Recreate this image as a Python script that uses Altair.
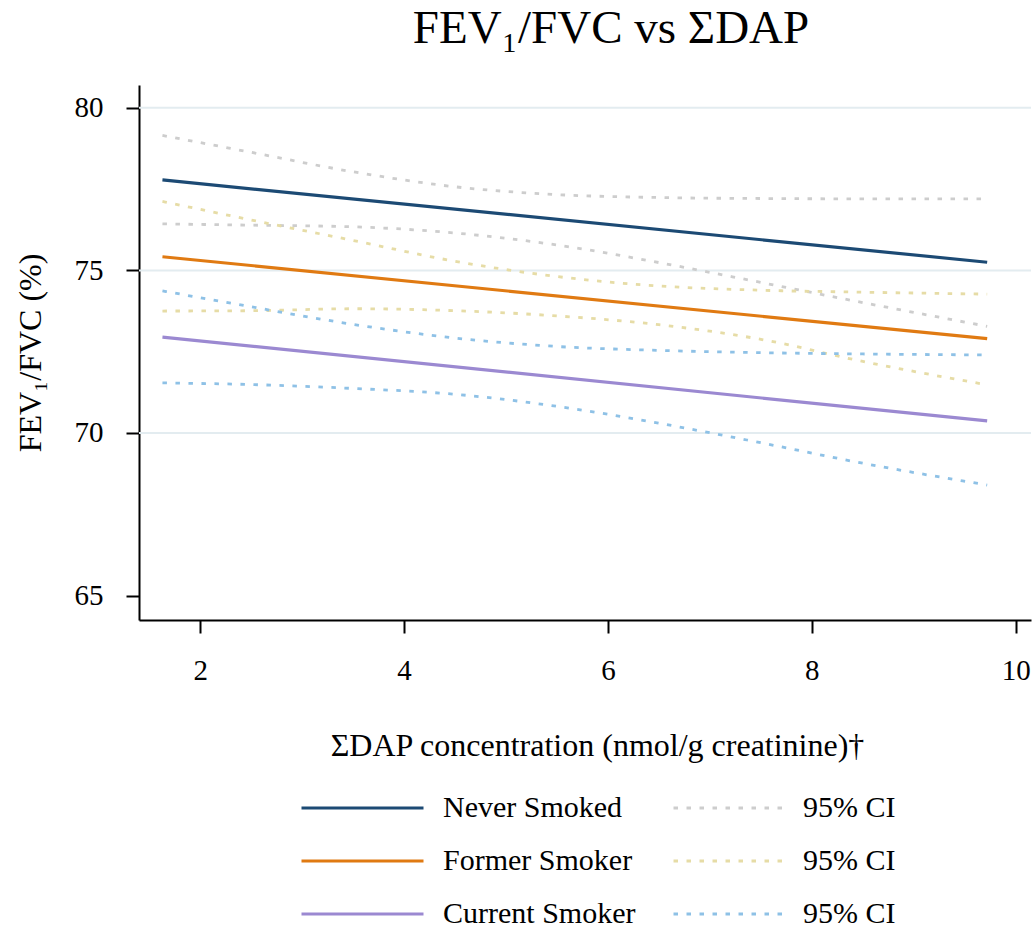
import altair as alt
import pandas as pd

# ---- data ----
groups = ["Never Smoked", "Former Smoker", "Current Smoker"]
ci_groups = ["CI Never", "CI Former", "CI Current"]
line_colors = ["#1c4a74", "#e07a12", "#9b89d1"]
ci_colors = ["#cdcdcd", "#e6dca6", "#8ec1e6"]

x_fit = [1.63, 9.72]
never_fit = [77.78, 75.25]
former_fit = [75.42, 72.90]
current_fit = [72.95, 70.37]

x_ci = [1.63, 2.5, 3.5, 4.5, 5.5, 6.5, 7.5, 8.5, 9.72]
never_upper = [79.15, 78.63, 78.03, 77.57, 77.33, 77.24, 77.21, 77.20, 77.20]
never_lower = [76.43, 76.39, 76.34, 76.15, 75.78, 75.24, 74.63, 74.01, 73.28]
former_upper = [77.12, 76.55, 75.92, 75.28, 74.81, 74.52, 74.39, 74.33, 74.27]
former_lower = [73.75, 73.76, 73.82, 73.76, 73.60, 73.33, 72.88, 72.20, 71.48]
current_upper = [74.37, 73.88, 73.34, 72.92, 72.66, 72.54, 72.47, 72.43, 72.40]
current_lower = [71.54, 71.49, 71.37, 71.19, 70.82, 70.30, 69.70, 69.07, 68.40]

x_ticks = [2, 4, 6, 8, 10]
y_ticks = [65, 70, 75, 80]
grid_values = [70, 75, 80]

FONT = "Liberation Serif"

# ---- tables ----
fit_rows = []
for g, vals in zip(groups, [never_fit, former_fit, current_fit]):
    for x, y in zip(x_fit, vals):
        fit_rows.append({"x": x, "y": y, "group": g})
fit_df = pd.DataFrame(fit_rows)

ci_rows = []
for cg, (up, lo) in zip(ci_groups, [(never_upper, never_lower),
                                      (former_upper, former_lower),
                                      (current_upper, current_lower)]):
    for x, y in zip(x_ci, up):
        ci_rows.append({"x": x, "y": y, "ci_group": cg, "id": cg + " upper"})
    for x, y in zip(x_ci, lo):
        ci_rows.append({"x": x, "y": y, "ci_group": cg, "id": cg + " lower"})
ci_df = pd.DataFrame(ci_rows)

grid_df = pd.DataFrame({"y": grid_values})

xscale = alt.Scale(domain=[1.4, 10.15], nice=False, zero=False)
yscale = alt.Scale(domain=[64.25, 80.7], nice=False, zero=False)

x_axis = alt.Axis(
    values=x_ticks, grid=False, domainColor="black", domainWidth=2,
    tickColor="black", tickWidth=2, tickSize=13, labelFontSize=29,
    labelPadding=23, labelColor="black", labelFont=FONT, labelFlush=False,
    title="ΣDAP concentration (nmol/g creatinine)†", titleFont=FONT,
    titleFontSize=32, titleFontWeight="normal", titleColor="black",
    titlePadding=45, titleX=458,
)
y_axis = alt.Axis(
    values=y_ticks, grid=False, domainColor="black", domainWidth=2,
    tickColor="black", tickWidth=2, tickSize=13, labelFontSize=29,
    labelPadding=23, labelColor="black", labelFont=FONT, labelFlush=False,
    title="FEV₁/FVC (%)", titleFont=FONT, titleFontSize=32,
    titleFontWeight="normal", titleColor="black", titlePadding=27,
)

grid = alt.Chart(grid_df).mark_rule(color="#e3ecf0", strokeWidth=2).encode(
    y=alt.Y("y:Q", scale=yscale, axis=y_axis),
)

ci = alt.Chart(ci_df).mark_line(
    strokeWidth=2.8, strokeDash=[4.5, 8.5], interpolate="monotone"
).encode(
    x=alt.X("x:Q", scale=xscale, axis=x_axis),
    y=alt.Y("y:Q", scale=yscale, axis=y_axis),
    stroke=alt.Stroke(
        "ci_group:N",
        scale=alt.Scale(domain=ci_groups, range=ci_colors),
        legend=alt.Legend(
            title=None, orient="none", legendX=533, legendY=708,
            symbolType="stroke", symbolSize=12769, symbolStrokeWidth=3,
            symbolDash=[4.5, 8.5], labelExpr="'95% CI'",
            labelFont=FONT, labelFontSize=30, labelColor="black",
            labelOffset=15, clipHeight=30, rowPadding=23, labelLimit=400,
        ),
    ),
    detail="id:N",
)

fit = alt.Chart(fit_df).mark_line(strokeWidth=3.2).encode(
    x=alt.X("x:Q", scale=xscale, axis=x_axis),
    y=alt.Y("y:Q", scale=yscale, axis=y_axis),
    color=alt.Color(
        "group:N",
        scale=alt.Scale(domain=groups, range=line_colors),
        legend=alt.Legend(
            title=None, orient="none", legendX=161, legendY=708,
            symbolType="stroke", symbolSize=14884, symbolStrokeWidth=3,
            labelFont=FONT, labelFontSize=30, labelColor="black",
            labelOffset=18, clipHeight=30, rowPadding=23, labelLimit=400,
        ),
    ),
)

chart = alt.layer(grid, ci, fit).properties(
    width=892,
    height=535,
    background="white",
    title=alt.TitleParams(
        "FEV₁/FVC vs ΣDAP", font=FONT, fontSize=47, fontWeight="normal",
        color="black", anchor="middle", offset=32, dx=26,
    ),
    autosize=alt.AutoSizeParams(type="none"),
    padding={"left": 139, "top": 85, "right": 2, "bottom": 311},
).configure_view(stroke=None)

chart.save("out.html", embed_options={"renderer": "svg", "actions": False})
